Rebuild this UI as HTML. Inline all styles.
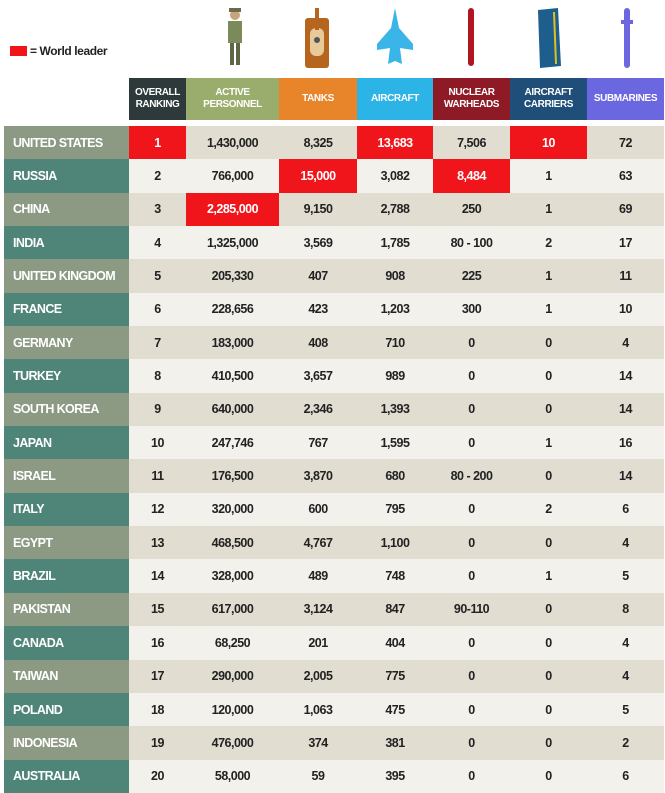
<!DOCTYPE html>
<html><head><meta charset="utf-8"><style>
body{margin:0;width:665px;height:793px;background:#fff;position:relative;overflow:hidden;font-family:"Liberation Sans",sans-serif;font-weight:bold}
.leg{position:absolute;left:10px;top:44px;font-size:12px;color:#222;letter-spacing:-0.4px}
.leg span{display:inline-block;width:17px;height:10px;background:#f0141b;vertical-align:-1px;margin-right:3px}
.country{position:absolute;left:12px;top:88px;font-size:25px;color:#111;transform:scaleX(0.82);transform-origin:left top;letter-spacing:-0.5px}
table{position:absolute;left:4px;top:78px;border-collapse:collapse;table-layout:fixed}
th{height:42px;color:#fff;font-size:10px;line-height:12px;font-weight:bold;padding:0;text-align:center;letter-spacing:-0.4px;white-space:nowrap}
td{height:33.35px;padding:0;text-align:center;font-size:12.5px;color:#222;letter-spacing:-0.5px;white-space:nowrap}
td.c{text-align:left;padding-left:9px;color:#fff;font-size:12.5px;letter-spacing:-0.6px}
tr.o td{background:#e2ddd1}tr.e td{background:#f3f1ec}
tr.o td.c{background:#8c9a84}tr.e td.c{background:#4f8478}
td.r{background:#f0141b!important;color:#fff}
.sp td{height:6px;background:#fff!important}
.ic{position:absolute}
</style></head><body>
<div class="leg"><span></span>= World leader</div>
<div class="country">COUNTRY</div>
<svg class="ic" style="left:220px;top:5px" width="30" height="65"><circle cx="15" cy="10" r="5" fill="#c9a27e"/><rect x="9" y="3" width="12" height="4" fill="#6b6b4a"/><rect x="8" y="16" width="14" height="22" fill="#7a8a5a"/><rect x="10" y="38" width="4" height="22" fill="#5f6648"/><rect x="16" y="38" width="4" height="22" fill="#5f6648"/></svg>
<svg class="ic" style="left:302px;top:4px" width="30" height="66"><rect x="3" y="14" width="24" height="50" rx="3" fill="#b5651d"/><rect x="8" y="24" width="14" height="28" rx="6" fill="#e8c99a"/><rect x="13" y="4" width="4" height="22" fill="#b5651d"/><circle cx="15" cy="36" r="3" fill="#555"/></svg>
<svg class="ic" style="left:375px;top:6px" width="40" height="62"><polygon points="20,2 24,22 38,38 38,44 25,42 27,58 20,55 13,58 15,42 2,44 2,38 16,22" fill="#3ab5e8"/></svg>
<svg class="ic" style="left:464px;top:4px" width="14" height="66"><rect x="4" y="4" width="6" height="58" rx="3" fill="#b01622"/></svg>
<svg class="ic" style="left:534px;top:4px" width="30" height="66"><polygon points="4,6 24,4 27,62 6,64" fill="#1e5e8c"/><line x1="20" y1="8" x2="22" y2="60" stroke="#e0c020" stroke-width="2"/></svg>
<svg class="ic" style="left:620px;top:4px" width="14" height="66"><rect x="4" y="4" width="6" height="60" rx="3" fill="#6a67e0"/><rect x="1" y="16" width="12" height="4" fill="#6a67e0"/></svg>
<table>
<colgroup><col style="width:125px"><col style="width:57px"><col style="width:93px"><col style="width:78px"><col style="width:76px"><col style="width:77px"><col style="width:77px"><col style="width:77px"></colgroup>
<tr><th style="background:#fff"></th><th style="background:#2e393b">OVERALL<br>RANKING</th><th style="background:#9bad6c">ACTIVE<br>PERSONNEL</th><th style="background:#e8852a">TANKS</th><th style="background:#2db4e6">AIRCRAFT</th><th style="background:#8e1a25">NUCLEAR<br>WARHEADS</th><th style="background:#1f4f78">AIRCRAFT<br>CARRIERS</th><th style="background:#6b67e0">SUBMARINES</th></tr>
<tr class="sp"><td colspan="8"></td></tr>
<tr class="o"><td class="c">UNITED STATES</td><td class="r">1</td><td>1,430,000</td><td>8,325</td><td class="r">13,683</td><td>7,506</td><td class="r">10</td><td>72</td></tr>
<tr class="e"><td class="c">RUSSIA</td><td>2</td><td>766,000</td><td class="r">15,000</td><td>3,082</td><td class="r">8,484</td><td>1</td><td>63</td></tr>
<tr class="o"><td class="c">CHINA</td><td>3</td><td class="r">2,285,000</td><td>9,150</td><td>2,788</td><td>250</td><td>1</td><td>69</td></tr>
<tr class="e"><td class="c">INDIA</td><td>4</td><td>1,325,000</td><td>3,569</td><td>1,785</td><td>80 - 100</td><td>2</td><td>17</td></tr>
<tr class="o"><td class="c">UNITED KINGDOM</td><td>5</td><td>205,330</td><td>407</td><td>908</td><td>225</td><td>1</td><td>11</td></tr>
<tr class="e"><td class="c">FRANCE</td><td>6</td><td>228,656</td><td>423</td><td>1,203</td><td>300</td><td>1</td><td>10</td></tr>
<tr class="o"><td class="c">GERMANY</td><td>7</td><td>183,000</td><td>408</td><td>710</td><td>0</td><td>0</td><td>4</td></tr>
<tr class="e"><td class="c">TURKEY</td><td>8</td><td>410,500</td><td>3,657</td><td>989</td><td>0</td><td>0</td><td>14</td></tr>
<tr class="o"><td class="c">SOUTH KOREA</td><td>9</td><td>640,000</td><td>2,346</td><td>1,393</td><td>0</td><td>0</td><td>14</td></tr>
<tr class="e"><td class="c">JAPAN</td><td>10</td><td>247,746</td><td>767</td><td>1,595</td><td>0</td><td>1</td><td>16</td></tr>
<tr class="o"><td class="c">ISRAEL</td><td>11</td><td>176,500</td><td>3,870</td><td>680</td><td>80 - 200</td><td>0</td><td>14</td></tr>
<tr class="e"><td class="c">ITALY</td><td>12</td><td>320,000</td><td>600</td><td>795</td><td>0</td><td>2</td><td>6</td></tr>
<tr class="o"><td class="c">EGYPT</td><td>13</td><td>468,500</td><td>4,767</td><td>1,100</td><td>0</td><td>0</td><td>4</td></tr>
<tr class="e"><td class="c">BRAZIL</td><td>14</td><td>328,000</td><td>489</td><td>748</td><td>0</td><td>1</td><td>5</td></tr>
<tr class="o"><td class="c">PAKISTAN</td><td>15</td><td>617,000</td><td>3,124</td><td>847</td><td>90-110</td><td>0</td><td>8</td></tr>
<tr class="e"><td class="c">CANADA</td><td>16</td><td>68,250</td><td>201</td><td>404</td><td>0</td><td>0</td><td>4</td></tr>
<tr class="o"><td class="c">TAIWAN</td><td>17</td><td>290,000</td><td>2,005</td><td>775</td><td>0</td><td>0</td><td>4</td></tr>
<tr class="e"><td class="c">POLAND</td><td>18</td><td>120,000</td><td>1,063</td><td>475</td><td>0</td><td>0</td><td>5</td></tr>
<tr class="o"><td class="c">INDONESIA</td><td>19</td><td>476,000</td><td>374</td><td>381</td><td>0</td><td>0</td><td>2</td></tr>
<tr class="e"><td class="c">AUSTRALIA</td><td>20</td><td>58,000</td><td>59</td><td>395</td><td>0</td><td>0</td><td>6</td></tr>
</table>
</body></html>
